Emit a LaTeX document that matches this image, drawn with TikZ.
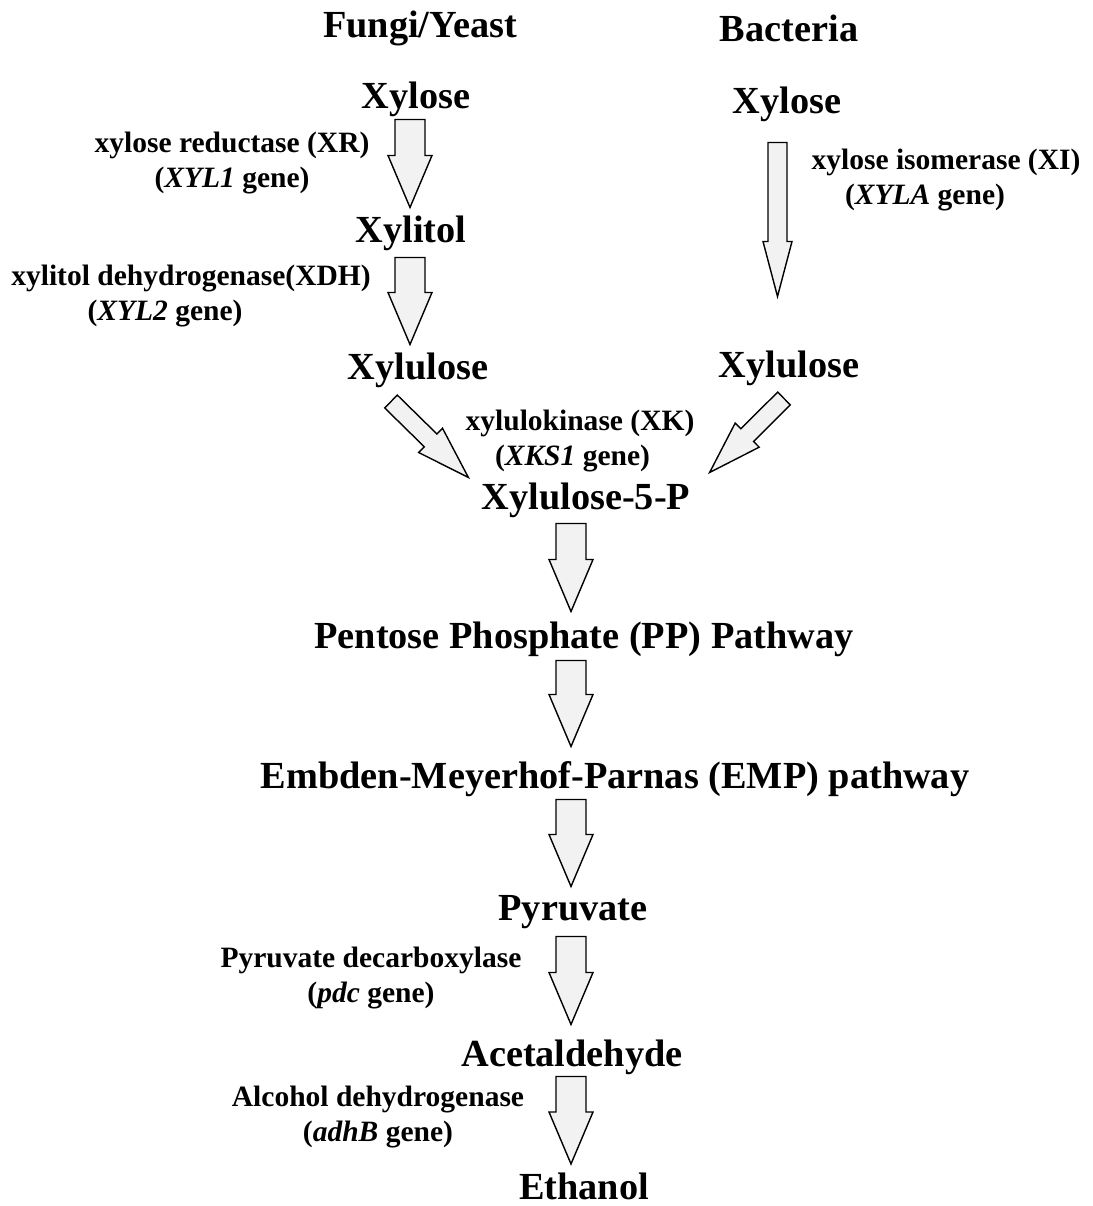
\documentclass[tikz,border=0pt]{standalone}
\usepackage{fontspec}
\setmainfont{Liberation Serif}
\usetikzlibrary{calc,positioning}
\definecolor{arrowfill}{RGB}{242,242,242}
\tikzset{
  %Define style for compound names
  metab/.style={
    font=\fontsize{21.8}{26}\selectfont\bfseries,
    inner sep=0pt,
    text height=15.3pt,
    text depth=4.8pt},
  %Define style for enzyme labels
  enzyme/.style={
    font=\fontsize{16.8}{19.8}\selectfont\bfseries,
    inner sep=0pt,
    align=center},
  % Define block arrow style
  blockarrow/.style={
    draw=black,
    line width=0.8pt,
    fill=arrowfill,
    line join=miter},
  arrow main/.code={\def\faS{0.3cm}\def\faH{0.44cm}\def\faL{1.04cm}},
  arrow thin/.code={\def\faS{0.19cm}\def\faH{0.29cm}\def\faL{1.1cm}},
  arrow diag/.code={\def\faS{0.18cm}\def\faH{0.34cm}\def\faL{1.06cm}}
}
% block arrow from #2 to #3
\newcommand{\fatarrow}[3][arrow main]{%
  \tikzset{#1}%
  \coordinate (fa-s) at (#2);
  \coordinate (fa-e) at (#3);
  \coordinate (fa-h) at ($(fa-e)!\faL!(fa-s)$);
  \draw[blockarrow] ($(fa-s)!\faS!90:(fa-e)$) -- ($(fa-h)!\faS!90:(fa-e)$)
    -- ($(fa-h)!\faH!90:(fa-e)$) -- (fa-e) -- ($(fa-h)!\faH!-90:(fa-e)$)
    -- ($(fa-h)!\faS!-90:(fa-e)$) -- ($(fa-s)!\faS!-90:(fa-e)$) -- cycle;
}
\begin{document}
\begin{tikzpicture}[x=0.02cm,y=-0.02cm]
  \useasboundingbox (0,0) rectangle (1092,1206);
  \coordinate (fcol) at (410,0);
  \coordinate (bcol) at (777.5,0);
  \coordinate (mcol) at (571,0);
  % compounds
  \node[metab] (fy) at (420,28.5) {Fungi/Yeast};
  \node[metab] (bact) at (789,32) {Bacteria};
  \node[metab] (fx) at (416,99.5) {Xylose};
  \node[metab] (bx) at (787,104.5) {Xylose};
  \node[metab] (fxt) at (411,233.5) {Xylitol};
  \node[metab] (fxu) at (418,370.5) {Xylulose};
  \node[metab] (bxu) at (789,368.5) {Xylulose};
  \node[metab] (x5p) at (586,500.5) {Xylulose-5-P};
  \node[metab] (pp) at (584,639.5) {Pentose Phosphate (PP) Pathway};
  \node[metab] (emp) at (615,779.5) {Embden-Meyerhof-Parnas (EMP) pathway};
  \node[metab] (pyr) at (573,911.5) {Pyruvate};
  \node[metab] (acet) at (572,1057.5) {Acetaldehyde};
  \node[metab] (eth) at (584,1190) {Ethanol};
  % enzymes
  \node[enzyme] (xr) at (232,163) {xylose reductase (XR)\\(\textit{XYL1} gene)};
  \node[enzyme] (xdh) at (191,296) {xylitol dehydrogenase(XDH)\\(\textit{XYL2} gene)\hspace*{1.04cm}};
  \node[enzyme] (xi) at (946,180) {xylose isomerase (XI)\\(\textit{XYLA} gene)\hspace*{0.84cm}};
  \node[enzyme] (xk) at (580,441) {xylulokinase (XK)\\(\textit{XKS1} gene)\hspace*{0.3cm}};
  \node[enzyme] (pdc) at (371,978) {Pyruvate decarboxylase\\(\textit{pdc} gene)};
  \node[enzyme] (adh) at (378,1117) {Alcohol dehydrogenase\\(\textit{adhB} gene)};
  % arrows
  \fatarrow{$(fx.south -| fcol)+(0,2)$}{$(fxt.north -| fcol)+(0,-8)$}
  \fatarrow{$(fxt.south -| fcol)+(0,6)$}{$(fxu.north -| fcol)+(0,-8)$}
  \fatarrow[arrow thin]{$(bx.south -| bcol)+(0,20)$}{$(bxu.north -| bcol)+(0,-54)$}
  \fatarrow[arrow diag]{$(fxu.south)+(-27,13)$}{$(x5p.north west)+(-13,-5)$}
  \fatarrow[arrow diag]{$(bxu.south)+(-5,12)$}{$(x5p.north east)+(19,-10)$}
  \fatarrow{$(x5p.south -| mcol)+(0,5)$}{$(pp.north -| mcol)+(0,-10)$}
  \fatarrow{$(pp.south -| mcol)+(0,3)$}{$(emp.north -| mcol)+(0,-15)$}
  \fatarrow{$(emp.south -| mcol)+(0,2)$}{$(pyr.north -| mcol)+(0,-7)$}
  \fatarrow{$(pyr.south -| mcol)+(0,7)$}{$(acet.north -| mcol)+(0,-15)$}
  \fatarrow{$(acet.south -| mcol)+(0,1)$}{$(eth.north -| mcol)+(0,-8)$}
\end{tikzpicture}
\end{document}
